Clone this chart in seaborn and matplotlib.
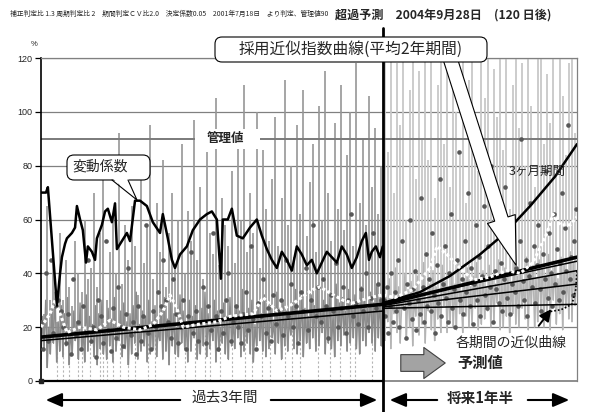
import numpy as np
import pandas as pd
import matplotlib
matplotlib.use("Agg")
import matplotlib.pyplot as plt
import seaborn as sns
from matplotlib.transforms import Affine2D
from matplotlib.patches import FancyBboxPatch, Polygon, Rectangle, FancyArrowPatch
from matplotlib.lines import Line2D

# ---------------- data (days from start of the 3-year window, values in %) ----------------
PRESENT_DAY = 1095
END_DAY = 1716

# daily series in the past: spike highs, lows and the ordinary daily level in between
past_peaks = [38, 25, 65, 30, 47, 22, 55, 30, 45, 35,
              28, 52, 40, 33, 60, 38, 42, 70, 35, 55,
              78, 30, 48, 62, 40, 92, 36, 58, 45, 65,
              50, 32, 75, 44, 58, 95, 38, 66, 48, 82,
              35, 55, 70, 42, 60, 88, 40, 63, 52, 97,
              45, 72, 38, 85, 55, 47, 105, 43, 68, 58,
              50, 78, 44, 92, 60, 110, 48, 70, 55, 100,
              42, 86, 64, 52, 75, 98, 50, 68, 112, 58,
              80, 46, 95, 62, 108, 54, 74, 88, 48, 102,
              60, 115, 70, 52, 96, 64, 110, 56, 84, 100,
              50, 118, 66, 90, 58, 106, 72, 94, 62, 80]
past_troughs = [8, 12, 5, 10, 14, 7, 11, 9, 13, 6,
                10, 15, 8, 12, 7, 11, 14, 9, 6, 12,
                10, 8, 13, 7, 11, 15, 9, 12, 6, 10,
                14, 8, 11, 13, 7, 10, 12, 9, 15, 8,
                11, 6, 13, 10, 9, 14, 12, 7, 11, 16,
                8, 10, 13, 9, 12, 15, 7, 11, 14, 10,
                8, 13, 12, 16, 9, 11, 14, 10, 7, 13,
                15, 11, 9, 12, 16, 10, 14, 8, 13, 11,
                17, 12, 10, 15, 9, 14, 12, 16, 11, 13,
                18, 10, 14, 12, 9, 15, 13, 17, 11, 14,
                16, 12, 10, 15, 13, 18, 14, 11, 16, 13]
past_mid = [24, 30, 20, 27, 33, 22, 28, 25, 31, 19,
            26, 22, 29, 18, 32, 24, 21, 28, 25, 30,
            20, 27, 23, 31, 19, 26, 29, 22, 25, 28,
            33, 21, 26, 24, 30, 22, 28, 19, 27, 31,
            23, 29, 25, 20, 32, 26, 22, 30, 24, 28,
            21, 27, 33, 25, 23, 30, 26, 20, 29, 24,
            31, 22, 28, 26, 34, 23, 27, 30, 21, 29,
            25, 32, 24, 28, 22, 33, 27, 30, 26, 23,
            29, 34, 25, 31, 27, 24, 32, 28, 35, 26,
            30, 27, 33, 25, 36, 29, 31, 26, 34, 28,
            32, 28, 35, 30, 27, 33, 29, 36, 31, 34]

# predicted daily series
future_peaks = [120, 85, 130, 70, 118, 95, 125, 60, 108, 128,
                75, 115, 90, 130, 82, 122, 68, 110, 126, 88,
                119, 72, 128, 100, 84, 125, 66, 112, 130, 92,
                78, 121, 105, 127, 70, 116, 98, 130, 86, 124,
                64, 110, 128, 94, 118, 80, 126, 102, 72, 120,
                130, 88, 114, 96, 128, 76, 122, 106, 84, 118,
                130, 92]
future_troughs = [15, 22, 12, 25, 18, 14, 27, 16, 20, 13,
                  24, 17, 21, 14, 26, 19, 15, 23, 18, 28,
                  18, 22, 20, 19, 25, 18, 24, 20, 21, 27,
                  19, 21, 23, 26, 20, 22, 29, 19, 20, 24,
                  18, 25, 21, 20, 27, 23, 19, 28, 20, 22,
                  26, 20, 24, 19, 30, 21, 25, 19, 27, 23,
                  22, 28]
future_mid = [32, 38, 30, 42, 35, 29, 40, 34, 37, 31,
              39, 33, 44, 30, 36, 41, 35, 32, 43, 37,
              34, 40, 36, 45, 33, 38, 42, 35, 39, 44,
              37, 41, 35, 43, 39, 36, 45, 38, 42, 40,
              36, 44, 39, 41, 37, 46, 40, 43, 38, 45,
              42, 39, 47, 41, 44, 38, 46, 43, 40, 48,
              44, 41]

# weekly-ish observation points
past_dots = [22, 12, 40, 15, 45, 18, 28, 30,
             26, 20, 14, 25, 10, 38, 17, 22,
             12, 28, 18, 45, 15, 20, 9, 30,
             24, 14, 52, 19, 11, 27, 16, 35,
             20, 13, 25, 42, 17, 22, 10, 28,
             15, 24, 58, 18, 12, 26, 20, 33,
             28, 45, 30, 22, 16, 38, 25, 14,
             20, 30, 12, 24, 48, 18, 26, 15,
             22, 35, 14, 28, 19, 55, 24, 12,
             26, 18, 30, 40, 15, 22, 28, 20,
             14, 25, 33, 19, 50, 23, 12, 29,
             24, 38, 18, 27, 15, 32, 21, 26,
             30, 17, 45, 24, 36, 20, 28, 14,
             33, 26, 42, 19, 30, 58, 24, 35,
             22, 38, 28, 16, 32, 26, 44, 20,
             27, 35, 18, 30, 62, 24, 29, 21,
             34, 26, 40, 20, 31, 55, 27, 36, 30]
future_dots = [30, 24, 35, 18, 28, 40, 22, 33, 26, 45,
               20, 31, 52, 27, 16, 36, 29, 60, 23, 34,
               41, 19, 30, 25, 68, 35, 22, 47, 28, 38,
               26, 55, 32, 18, 43, 29, 75, 24, 36, 50,
               31, 22, 40, 62, 27, 34, 20, 45, 85, 30,
               38, 25, 52, 33, 70, 28, 42, 21, 36, 58,
               30, 46, 24, 39, 65, 32, 27, 50, 35, 80,
               22, 41, 34, 56, 29, 44, 26, 38, 72, 31,
               48, 25, 36, 60, 33, 42, 28, 52, 90, 37,
               30, 45, 24, 39, 66, 35, 50, 29, 43, 58,
               34, 26, 47, 38, 78, 31, 55, 40, 28, 62,
               36, 49, 30, 44, 70, 33, 57, 41, 95, 38,
               46, 32, 52, 64]

# coefficient of variation (変動係数)
cv_days = [0, 16, 22, 51, 61, 67, 77, 83, 99, 109, 115, 125, 134, 144, 150, 163,
           173, 179, 195, 205, 214, 227, 237, 243, 259, 275, 285, 301, 317, 339,
           358, 381, 390, 406, 419, 429, 445, 467, 486, 509, 531, 547, 563, 576,
           582, 598, 611, 627, 646, 669, 691, 707, 723, 739, 755, 771, 787, 803,
           819, 835, 851, 867, 883, 899, 915, 931, 947, 963, 979, 995, 1011, 1027,
           1040, 1050, 1059, 1072, 1085, 1094]
cv_values = [70, 70, 72, 28, 40, 46, 51, 53, 55, 57, 65, 60, 56, 44, 50, 48,
             45, 53, 58, 63, 64, 59, 66, 49, 52, 55, 52, 67, 67, 65,
             59, 55, 62, 53, 45, 42, 47, 50, 56, 60, 62, 63, 60, 38,
             60, 60, 64, 54, 53, 57, 60, 54, 49, 45, 42, 48, 45, 41,
             50, 47, 43, 45, 40, 44, 48, 46, 44, 50, 47, 42, 46, 52,
             55, 45, 48, 50, 46, 50]

# moving average
ma_days = [0, 29, 45, 61, 83, 125, 179, 221, 263, 317, 359, 391, 413, 435, 455,
           499, 564, 605, 679, 711, 756, 797, 871, 893, 925, 967, 999, 1053, 1095,
           1133, 1191, 1245, 1268, 1300, 1341, 1383, 1437, 1492, 1534, 1575, 1620,
           1639, 1662, 1694, 1716]
ma_values = [20, 25, 30, 25, 18, 20, 19, 22.6, 20, 19, 21, 26, 32, 27, 20,
             21, 22, 24, 25, 31, 26, 28, 34, 35, 32.7, 30, 29, 31, 32,
             31, 34, 42, 50, 47, 42, 37.5, 38.6, 41, 40, 44, 55,
             62, 58, 58, 61]

# fitted curves
adopted_days = [0, 1095, 1716]
adopted_values = [16.3, 28.5, 46.0]
secondary_days = [0, 1095]
secondary_values = [15.0, 26.0]
fan_days = [1095, 1716]
fan_a = [29.0, 44.5]
fan_b = [28.0, 41.0]
fan_c = [27.5, 36.0]
fan_d = [27.0, 28.5]
three_month_days = [1095, 1213, 1309, 1405, 1486, 1566, 1646, 1716]
three_month_values = [29, 33, 39, 47, 55, 65, 76, 88]
period_curve_days = [1620, 1665, 1700, 1712, 1716]
period_curve_values = [25.6, 26.5, 28.5, 34, 41]

# days with no data (dashed drop lines)
gap_days = [51, 70, 90, 118, 131, 157, 189, 199, 211, 231, 253, 279, 301, 343,
            365, 429, 461, 493, 525, 541, 573, 612, 653, 676, 708, 733, 781, 804,
            829, 887, 925, 957, 989, 1005, 1060]
gap_heights = [18, 15, 20, 14, 17, 19, 15, 18, 16, 20, 14, 17, 19, 15,
               18, 16, 20, 14, 17, 15, 19, 16, 18, 14, 20, 17, 15, 19,
               16, 18, 14, 20, 17, 15, 18]

CONTROL_LIMIT = 90

# ---------------- style ----------------
sns.set_theme(style="white")
plt.rcParams['font.family'] = ['Noto Sans CJK JP', 'DejaVu Sans']
plt.rcParams['axes.unicode_minus'] = False

W, H = 595, 412
fig = plt.figure(figsize=(W / 100, H / 100), dpi=100)
fig.patch.set_facecolor('white')
ax = fig.add_axes([41 / W, 31 / H, 536 / W, 323 / H])
pix = Affine2D().scale(1 / W, -1 / H).translate(0, 1) + fig.transFigure


def daily_band(lows, mids, start):
    """Daily level zig-zagging between the low and the ordinary level."""
    n = len(lows)
    d = np.empty(2 * n)
    v = np.empty(2 * n)
    d[0::2] = start + 10 * np.arange(n)
    d[1::2] = start + 5 + 10 * np.arange(n)
    v[0::2] = lows
    v[1::2] = mids
    return pd.DataFrame({'day': d, 'value': v})


past_band = daily_band(past_troughs, past_mid, 0)
future_band = daily_band(future_troughs, future_mid, 1100)
past_spike_days = 10 * np.arange(len(past_peaks))
future_spike_days = 1100 + 10 * np.arange(len(future_peaks))
past_pts = pd.DataFrame({'day': 8 * np.arange(len(past_dots)), 'value': past_dots})
future_pts = pd.DataFrame({'day': 1097 + 5 * np.arange(len(future_dots)), 'value': future_dots})

# ---------------- grid & reference lines ----------------
for v in [20, 40, 60, 80, 100, 120]:
    ax.axhline(v, color='#808080', lw=0.9, zorder=0.5)
ax.axhline(CONTROL_LIMIT, color='#7a7a7a', lw=1.4, zorder=2.5)
ax.vlines(gap_days, 0, gap_heights, colors='#b5b5b5', linestyles=(0, (2, 2)), lw=0.8, zorder=1)

# ---------------- series ----------------
ax.vlines(past_spike_days, past_troughs, past_peaks, colors='#969696', lw=1.2, zorder=2)
ax.vlines(future_spike_days, future_troughs, future_peaks, colors='#c8c8c8', lw=1.3, zorder=2)
sns.lineplot(data=past_band, x='day', y='value', color='#8a8a8a', lw=1.0,
             estimator=None, sort=False, ax=ax, zorder=2.1)
sns.lineplot(data=future_band, x='day', y='value', color='#b4b4b4', lw=1.0,
             estimator=None, sort=False, ax=ax, zorder=2.1)
sns.scatterplot(data=past_pts, x='day', y='value', s=11, color='#575757', linewidth=0, ax=ax, zorder=3)
sns.scatterplot(data=future_pts, x='day', y='value', s=11, color='#575757', linewidth=0, ax=ax, zorder=3)

sns.lineplot(x=secondary_days, y=secondary_values, color='black', lw=1.1, ax=ax, zorder=4)
for vals in [fan_a, fan_b, fan_c, fan_d]:
    sns.lineplot(x=fan_days, y=vals, color='black', lw=1.1, ax=ax, zorder=4)
sns.lineplot(x=adopted_days, y=adopted_values, color='black', lw=2.6, ax=ax, zorder=4)
sns.lineplot(x=three_month_days, y=three_month_values, color='black', lw=1.8, ax=ax, zorder=4)
sns.lineplot(x=period_curve_days, y=period_curve_values, color='black', lw=1.2,
             linestyle=(0, (1, 1.2)), ax=ax, zorder=4)

sns.lineplot(x=ma_days, y=ma_values, color='white', lw=2.2, linestyle=(0, (1, 0.8)), ax=ax, zorder=5)
sns.lineplot(x=cv_days, y=cv_values, color='black', lw=1.8, ax=ax, zorder=6)

ax.plot([0], [0], marker='s', ms=3.5, color='#222222', clip_on=False, zorder=7)

# control-limit label
ax.add_patch(Rectangle((493, 86.3), 208, 7.4, fc='white', ec='none', zorder=2.7))
ax.text(590, CONTROL_LIMIT, '管理値', fontsize=9, fontweight='bold', ha='center',
        va='center', zorder=7)

# ---------------- axes ----------------
ax.set_xlim(0, END_DAY)
ax.set_ylim(0, 120)
ax.set_xticks([])
ax.set_yticks(range(0, 121, 20))
ax.set_yticklabels([str(v) for v in range(0, 121, 20)], fontsize=6.5, family='Liberation Sans')
ax.tick_params(axis='y', length=4, width=0.9, color='black', pad=2, left=True)
ax.set_xlabel('')
ax.set_ylabel('')
for s in ['top', 'right']:
    ax.spines[s].set_color('#808080')
    ax.spines[s].set_linewidth(0.9)
ax.spines['bottom'].set_color('#808080')
ax.spines['left'].set_color('black')
ax.spines['left'].set_linewidth(1.2)
ax.plot([0, PRESENT_DAY], [0, 0], color='black', lw=1.6, clip_on=False, zorder=6)

# ---------------- figure annotations ----------------
fig.text(10 / W, 1 - 14 / H,
         '補正判定比 1.3 周期判定比 2　期間判定ＣＶ比2.0　決定係数0.05　2001年7月18日　より判定、管理値90',
         fontsize=4.9, ha='left', va='center')
fig.text(335 / W, 1 - 15 / H, '超過予測　2004年9月28日　(120 日後)',
         fontsize=8.7, fontweight='bold', ha='left', va='center')
fig.text(34 / W, 1 - 45 / H, '%', fontsize=5.5, ha='center', va='center', family='Liberation Sans')

# present-day divider
fig.add_artist(Line2D([383, 383], [28, 412], transform=pix, color='black', lw=2, zorder=5))

# adopted-curve callout with big arrow
big_arrow = FancyArrowPatch((448, 52), (517, 268), transform=pix,
                            arrowstyle='simple,head_width=0.75,head_length=1.25,tail_width=0.36',
                            mutation_scale=28, fc='white', ec='black', lw=0.8, zorder=9)
fig.add_artist(big_arrow)
fig.add_artist(FancyBboxPatch((215, 37), 272, 25, boxstyle='round,pad=0,rounding_size=7',
                              transform=pix, fc='white', ec='black', lw=0.8, zorder=10))
fig.text(351 / W, 1 - 49.5 / H, '採用近似指数曲線(平均2年期間)', fontsize=11.3,
         ha='center', va='center', zorder=11)

# coefficient-of-variation callout
fig.add_artist(FancyBboxPatch((67, 155), 83, 25, boxstyle='round,pad=0,rounding_size=7',
                              transform=pix, fc='white', ec='black', lw=0.8, zorder=10))
fig.add_artist(Polygon([(112, 178), (128, 178), (137, 200)], closed=True, transform=pix,
                       fc='white', ec='none', zorder=11))
fig.add_artist(Line2D([112, 137, 128], [180, 200, 180], transform=pix, color='black',
                      lw=0.8, zorder=12))
fig.text(100 / W, 1 - 167 / H, '変動係数', fontsize=10, ha='center', va='center', zorder=13)

# future annotations
fig.text(537 / W, 1 - 171 / H, '3ヶ月期間', fontsize=9, ha='center', va='center', zorder=8)
fig.text(511 / W, 1 - 343 / H, '各期間の近似曲線', fontsize=10, ha='center', va='center', zorder=8)
fig.add_artist(FancyArrowPatch((537, 328), (553, 307), transform=pix,
                               arrowstyle='-|>,head_length=0.5,head_width=0.25', mutation_scale=14,
                               color='black', lw=1.4, zorder=8))
fig.add_artist(FancyArrowPatch((398, 363), (448, 363), transform=pix,
                               arrowstyle='simple,head_width=0.8,head_length=0.55,tail_width=0.43',
                               mutation_scale=28, fc='#a3a3a3', ec='#404040', lw=0.8, zorder=8))
fig.text(480 / W, 1 - 363 / H, '予測値', fontsize=11, fontweight='bold', ha='center',
         va='center', zorder=8)

# period arrows under the axis
for a, b in [(183, 43), (268, 380), (440, 387), (525, 572)]:
    fig.add_artist(FancyArrowPatch((a, 400), (b, 400), transform=pix,
                                   arrowstyle='-|>,head_length=0.7,head_width=0.3',
                                   mutation_scale=14, color='black', lw=1.5, zorder=8))
fig.text(225 / W, 1 - 398 / H, '過去3年間', fontsize=10.5, ha='center', va='center')
fig.text(480 / W, 1 - 398 / H, '将来1年半', fontsize=10.5, fontweight='bold', ha='center', va='center')

fig.savefig('out.png', dpi=100, facecolor='white')
